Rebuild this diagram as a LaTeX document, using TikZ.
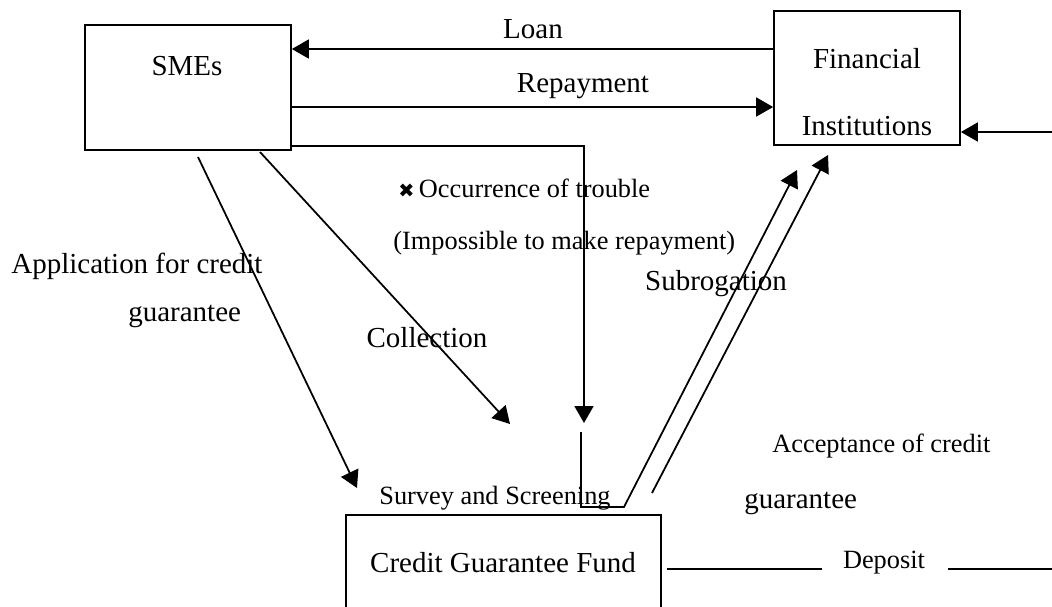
\documentclass[tikz,border=0pt]{standalone}
\usepackage{fontspec}
\setmainfont{Liberation Serif}
\newfontfamily\symfont{DejaVu Sans}
\usetikzlibrary{arrows.meta}

\tikzset{
  box/.style={draw, line width=1pt, inner sep=0pt},
  conn/.style={line width=1pt},
  arr/.style={conn, -{Triangle[length=0.34cm, width=0.38cm]}},
  bigtext/.style={font=\fontsize{16.5}{20}\selectfont, inner sep=0pt},
  midtext/.style={font=\fontsize{15}{18}\selectfont, inner sep=0pt},
}

\begin{document}
\begin{tikzpicture}[x=0.02cm, y=-0.02cm]

\useasboundingbox (0,0) rectangle (1052,606);

% Draws the three boxes
\node[box, minimum width=4.12cm, minimum height=2.5cm] (sme) at (188,87.5) {};
\node[box, minimum width=3.72cm, minimum height=2.68cm] (fi) at (867,78) {};
\node[box, minimum width=6.3cm, minimum height=2.1cm] (cgf) at (503.5,567.5) {};

% Writes the names inside the boxes
\node[bigtext] (smename) at (187,66) {SMEs};
\node[bigtext] (finame1) at (867,59) {Financial};
\node[bigtext] (finame2) at (867,126) {Institutions};
\node[bigtext] (cgfname) at (503,563) {Credit Guarantee Fund};

% Levels of the horizontal connectors
\coordinate (loanlvl) at (0,49);
\coordinate (repaylvl) at (0,107);
\coordinate (troublelvl) at (0,146);
\coordinate (inlvl) at (0,132);

% Loan and Repayment between SMEs and Financial Institutions
\draw[arr] (fi.west |- loanlvl) -- (sme.east |- loanlvl);
\draw[arr] (sme.east |- repaylvl) -- (fi.west |- repaylvl);
\node[bigtext] (loan) at (533,29) {Loan};
\node[bigtext] (repay) at (583,86) {Repayment};

% Occurrence of trouble, then subrogation back to Financial Institutions
\coordinate (bend) at (584,146);
\coordinate (troubletip) at (584,423);
\coordinate (restart) at (581,432);
\coordinate (low1) at (581,507);
\coordinate (low2) at (624,507);
\coordinate (subtip1) at (797,170);
\coordinate (substart) at (652,493);
\coordinate (subtip2) at (828,155);
\draw[arr] (sme.east |- troublelvl) -- (bend) -- (troubletip);
\draw[arr] (restart) -- (low1) -- (low2) -- (subtip1);
\draw[arr] (substart) -- (subtip2);

% Application and Collection from SMEs towards the fund
\coordinate (appstart) at (198,157);
\coordinate (apptip) at (357,488);
\coordinate (colstart) at (260,152);
\coordinate (coltip) at (510,424);
\draw[arr] (appstart) -- (apptip);
\draw[arr] (colstart) -- (coltip);

% Incoming arrow at the right of Financial Institutions
\coordinate (inend) at (1052,132);
\draw[arr] (inend) -- (fi.east |- inlvl);

% Deposit lines on the right of the fund
\coordinate (dep1) at (667,569);
\coordinate (dep2) at (822,569);
\coordinate (dep3) at (948,569);
\coordinate (dep4) at (1052,569);
\draw[conn] (dep1) -- (dep2);
\draw[conn] (dep3) -- (dep4);
\node[midtext] (deposit) at (884,563) {Deposit};

% Labels of the connectors
\node[midtext, anchor=west] (trouble) at (398,188) {{\symfont\fontsize{11}{12}\selectfont ✖}\,Occurrence of trouble};
\node[midtext, anchor=west] (impossible) at (393,243) {(Impossible to make repayment)};
\node[bigtext, anchor=west] (app1) at (11,266) {Application for credit};
\node[bigtext, anchor=west] (app2) at (128,316) {guarantee};
\node[bigtext] (collection) at (427,338) {Collection};
\node[bigtext] (subrogation) at (716,284) {Subrogation};
\node[midtext] (survey) at (495,498) {Survey and Screening};
\node[midtext, anchor=west] (accept1) at (772,446) {Acceptance of credit};
\node[bigtext, anchor=west] (accept2) at (744,503) {guarantee};

\end{tikzpicture}
\end{document}
